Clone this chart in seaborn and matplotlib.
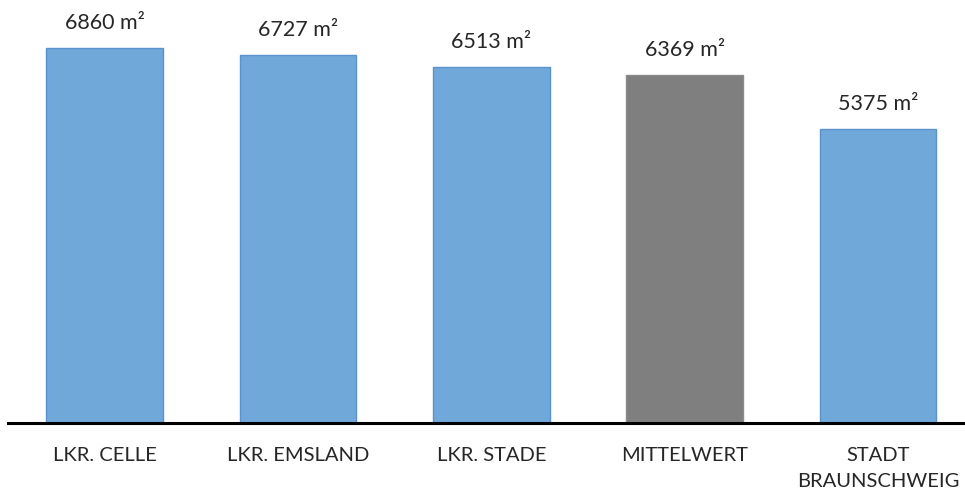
import matplotlib
matplotlib.use("Agg")
import matplotlib.pyplot as plt
import seaborn as sns
import pandas as pd

categories = ["LKR. CELLE", "LKR. EMSLAND", "LKR. STADE", "MITTELWERT", "STADT\nBRAUNSCHWEIG"]
values = [6860, 6727, 6513, 6369, 5375]
value_labels = ["6860 m²", "6727 m²", "6513 m²", "6369 m²", "5375 m²"]
kinds = ["Kreis", "Kreis", "Kreis", "Mittel", "Kreis"]

sns.set_theme(style="white")
plt.rcParams["font.family"] = ["Lato", "DejaVu Sans"]

df = pd.DataFrame({"cat": categories, "val": values, "kind": kinds})
palette = {"Kreis": "#70A8DA", "Mittel": "#7F7F7F"}
edge = {"Kreis": "#5B93CF", "Mittel": "#8A8A8A"}

fig = plt.figure(figsize=(9.65, 4.98), dpi=100)
ax = fig.add_axes([8 / 965, 75 / 498, 957 / 965, 423 / 498])
sns.barplot(data=df, x="cat", y="val", hue="kind", palette=palette, dodge=False,
            width=0.605, legend=False, ax=ax, order=categories, saturation=1)

for patch in ax.patches:
    xc = patch.get_x() + patch.get_width() / 2
    idx = int(round(xc))
    patch.set_edgecolor(edge[kinds[idx]])
    patch.set_linewidth(1.0)

ax.set_xlim(-0.5, 4.45)
ax.set_ylim(0, 7739)
for i, (v, lab) in enumerate(zip(values, value_labels)):
    ax.annotate(lab, (i, v), xytext=(0, 15), textcoords="offset pixels",
                ha="center", va="bottom", fontsize=15.5, color="#262626")

ax.set_xlabel("")
ax.set_ylabel("")
ax.set_yticks([])
ax.tick_params(axis="x", length=0, pad=17, labelsize=14.5, labelcolor="#262626")
for t in ax.get_xticklabels():
    t.set_linespacing(1.65)
for s in ["top", "right", "left"]:
    ax.spines[s].set_visible(False)
ax.spines["bottom"].set_linewidth(2.2)
ax.spines["bottom"].set_color("black")

fig.savefig("out.png", dpi=100)
